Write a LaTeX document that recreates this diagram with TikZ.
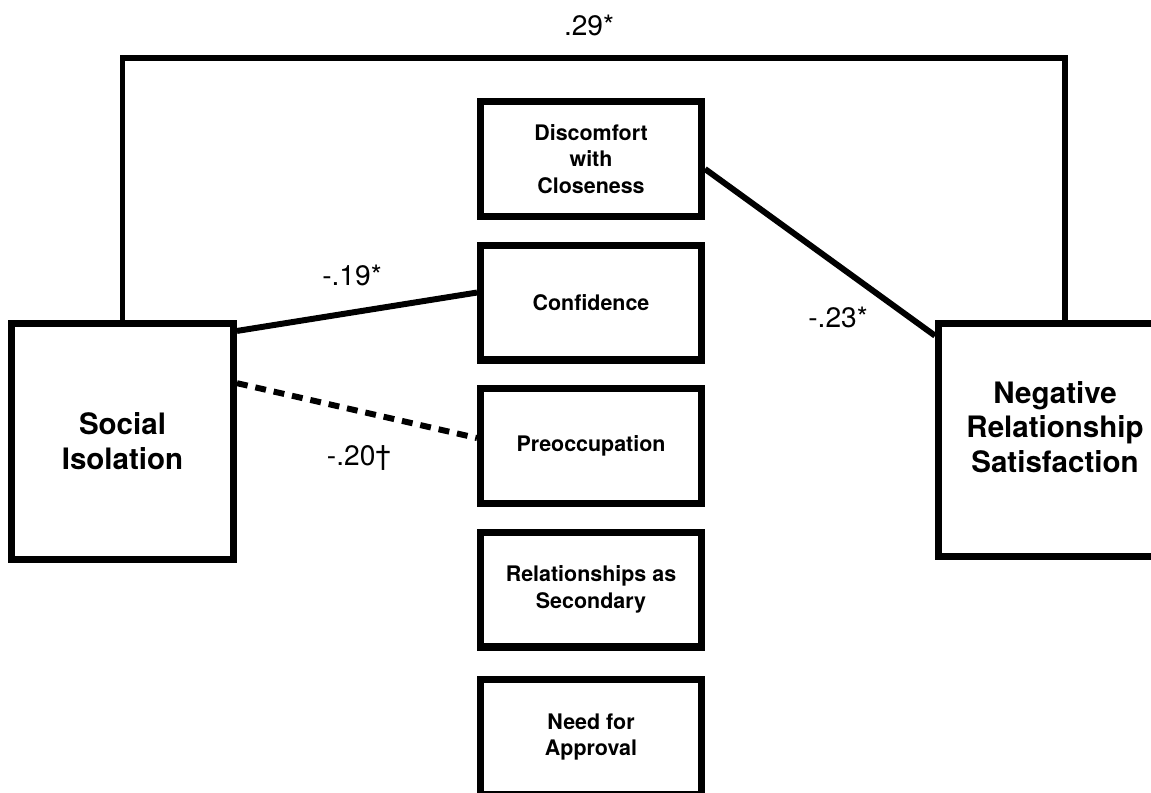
\documentclass[tikz,border=0pt]{standalone}
\usepackage{fontspec}
\setmainfont{TeX Gyre Heros}
\usetikzlibrary{arrows}

\tikzset{
  bigbox/.style={draw, line width=4pt, minimum width=4.44cm, minimum height=4.72cm,
                 inner sep=0pt, align=center, font=\fontsize{16.8}{19.8}\selectfont\bfseries},
  bigtext/.style={inner sep=0pt, align=center, font=\fontsize{16.8}{19.8}\selectfont\bfseries},
  midbox/.style={draw, line width=4pt, minimum width=4.42cm, minimum height=2.3cm,
                 inner sep=0pt, align=center, font=\fontsize{12.2}{15}\selectfont\bfseries},
  link/.style={line width=3.4pt},
  dashlink/.style={link, dash pattern=on 6.2pt off 4.5pt},
  coef/.style={anchor=base, inner sep=0pt, font=\fontsize{16}{19}\selectfont}
}

\begin{document}
\begin{tikzpicture}[x=0.02cm, y=-0.02cm]
        \useasboundingbox (0,0) rectangle (1151,792);

        \coordinate (TL) at (122.5,58);
        \coordinate (TR) at (1065,58);

        \node[bigbox] (SI) at (122.5,441.5) {Social\\Isolation};
        \node[bigbox, minimum width=4.66cm, minimum height=4.66cm] (NRS) at (1055,440) {};
        \node[bigtext] (NRSlabel) at (1055,427) {Negative\\Relationship\\Satisfaction};

        \node[midbox] (DC) at (591,159)   {Discomfort\\with\\Closeness};
        \node[midbox] (CO) at (591,302.5) {Confidence};
        \node[midbox] (PR) at (591,446)   {Preoccupation};
        \node[midbox] (RS) at (591,589.5) {Relationships as\\Secondary};
        \node[midbox] (NA) at (591,737)   {Need for\\Approval};

        \draw[link] (SI.north) -- (TL) -- (TR) -- (TR |- NRS.north);
        \draw[link] (SI.44) -- (CO.175);
        \draw[dashlink] (SI.27) -- (PR.176);
        \draw[link] (DC.-5) -- (NRS.139);

        \node[coef] (c29) at (589,35)  {.29*};
        \node[coef] (c19) at (352,285) {-.19*};
        \node[coef] (c20) at (359,465) {-.20†};
        \node[coef] (c23) at (838,327) {-.23*};
    \end{tikzpicture}
\end{document}
